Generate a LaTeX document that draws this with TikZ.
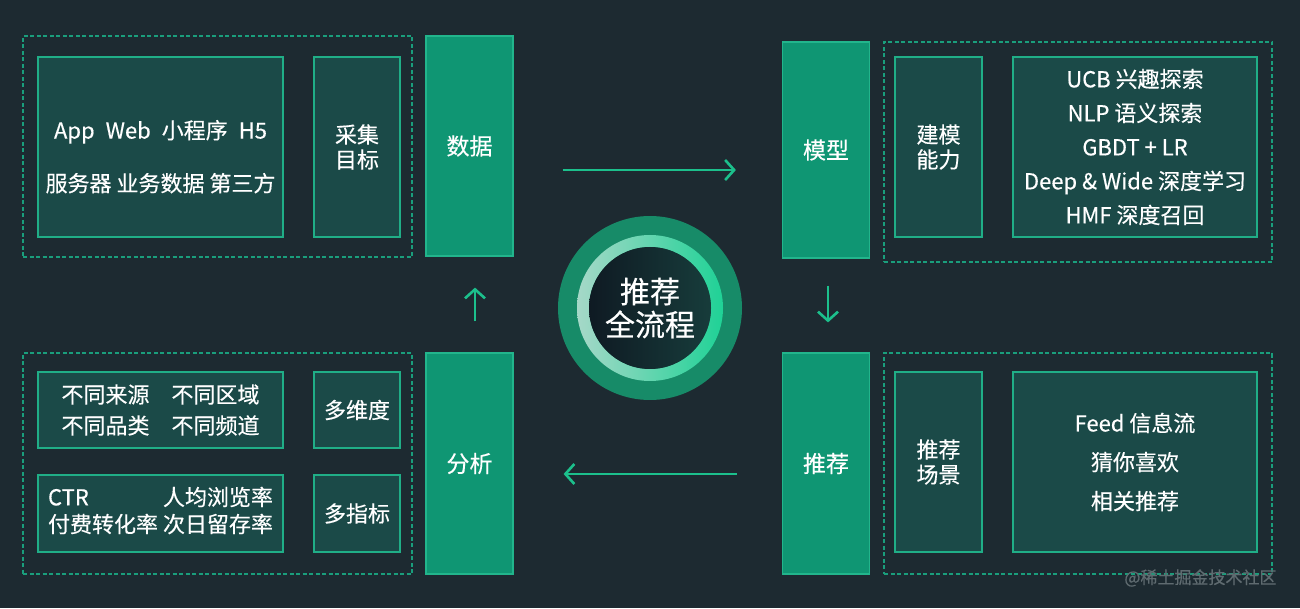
\documentclass[tikz,border=0pt]{standalone}
\usepackage{fontspec}
\newfontfamily\cjk[FakeBold=0.35]{Noto Sans CJK SC}
\usetikzlibrary{arrows.meta}

\definecolor{bgdark}{HTML}{1D2A31}
\definecolor{solidgreen}{HTML}{0F9673}
\definecolor{solidedge}{HTML}{22B58C}
\definecolor{panelfill}{HTML}{1B4A48}
\definecolor{paneledge}{HTML}{20AE87}
\definecolor{dashgreen}{HTML}{1A9E7C}
\definecolor{arrowgreen}{HTML}{1CC08C}
\definecolor{ringlight}{HTML}{A6D8C8}
\definecolor{ringbright}{HTML}{1FD296}
\definecolor{halogreen}{HTML}{178B68}
\definecolor{halomid}{HTML}{1A5A4C}
\definecolor{coredark}{HTML}{0F1A23}
\definecolor{coreteal}{HTML}{173C3B}
\definecolor{markgray}{HTML}{5F6B70}

\pgfdeclareradialshading{halo}{\pgfpoint{0bp}{0bp}}{color(0bp)=(halogreen); color(39bp)=(halogreen); color(44bp)=(halomid); color(50bp)=(bgdark)}

\tikzset{
		stagebox/.style = {shape=rectangle, draw=solidedge, fill=solidgreen,
				line width=1.2pt, inner sep=0pt, align=center, text=white,
				minimum width=87pt, font=\cjk\fontsize{23}{28}\selectfont},
		panelbox/.style = {shape=rectangle, draw=paneledge, fill=panelfill,
				line width=1.2pt, inner sep=0pt, align=center, text=white,
				font=\cjk\fontsize{22}{25}\selectfont},
		groupbox/.style = {shape=rectangle, draw=dashgreen, line width=1.2pt,
				dash pattern=on 4pt off 2.5pt, inner sep=0pt},
		flowarrow/.style = {draw=arrowgreen, line width=2.6pt,
				-{Straight Barb[length=9pt, width=20pt]}}
	}

\begin{document}
\begin{tikzpicture}[x=1pt, y=1pt]
	\fill[bgdark] (0,0) rectangle (1300,608);
	\useasboundingbox (0,0) rectangle (1300,608);

	\node[groupbox, minimum width=389, minimum height=221] (collectgrp) at (217.5,461.5) {};
	\node[groupbox, minimum width=389, minimum height=221] (analysegrp) at (217.5,144.5) {};
	\node[groupbox, minimum width=388, minimum height=220] (modelgrp) at (1078,456) {};
	\node[groupbox, minimum width=388, minimum height=221] (recomgrp) at (1078,144.5) {};

	\node[stagebox, minimum height=220] (data) at (469.5,462) {数据};
	\node[stagebox, minimum height=221] (analyse) at (469.5,144.5) {分析};
	\node[stagebox, minimum height=216] (model) at (826,458) {模型};
	\node[stagebox, minimum height=221] (recom) at (826,144.5) {推荐};

	\node[panelbox, minimum width=245, minimum height=180, font=\cjk\fontsize{22}{53}\selectfont]
		(sources) at (160.5,461) {\rule{0pt}{38pt}App\enspace Web\enspace 小程序\enspace H5\\服务器 业务数据 第三方};
	\node[panelbox, minimum width=86, minimum height=180] (goal) at (357,461) {采集\\目标};

	\node[panelbox, minimum width=245, minimum height=76, font=\cjk\fontsize{22}{31}\selectfont]
		(dims) at (160.5,198) {不同来源\quad 不同区域\\不同品类\quad 不同频道};
	\node[panelbox, minimum width=86, minimum height=76] (dimlabel) at (357,198) {多维度};
	\node[panelbox, minimum width=245, minimum height=77, font=\cjk\fontsize{22}{27}\selectfont]
		(metrics) at (160.5,94.5) {\begin{tabular}{@{}l@{ }r@{}}CTR & 人均浏览率\\付费转化率 & 次日留存率\end{tabular}};
	\node[panelbox, minimum width=86, minimum height=77] (metriclabel) at (357,94.5) {多指标};

	\node[panelbox, minimum width=87, minimum height=180] (ability) at (938.5,461) {建模\\能力};
	\node[panelbox, minimum width=244, minimum height=180, font=\cjk\fontsize{22}{34}\selectfont]
		(algos) at (1135,461) {UCB 兴趣探索\\NLP 语义探索\\GBDT + LR\\Deep \& Wide 深度学习\\HMF 深度召回};

	\node[panelbox, minimum width=87, minimum height=180] (scene) at (938.5,146) {推荐\\场景};
	\node[panelbox, minimum width=244, minimum height=180, font=\cjk\fontsize{22}{39}\selectfont]
		(scenes) at (1135,146) {Feed 信息流\\猜你喜欢\\相关推荐};

	\coordinate (hub) at (650,300);
	\shade[shading=halo] (hub) circle (92);
	\shade[left color=ringlight, right color=ringbright, even odd rule] (hub) circle (73) circle (61);
	\node[circle, minimum size=122pt, inner sep=0pt, left color=coredark, right color=coreteal,
		text=white, align=center, font=\cjk\fontsize{30}{33}\selectfont] (core) at (hub) {推荐\\全流程};

	\draw[flowarrow] ([shift={(49,-24)}]data.east) -- ([shift={(-46,-20)}]model.west);
	\draw[flowarrow] ([shift={(2,-27)}]model.south) -- ([shift={(2,30)}]recom.north);
	\draw[flowarrow] ([shift={(-45,-10.5)}]recom.west) -- ([shift={(50,-10.5)}]analyse.east);
	\draw[flowarrow] ([shift={(5.5,31)}]analyse.north) -- ([shift={(5.5,-31)}]data.south);

	\node[text=markgray, anchor=east, font=\cjk\fontsize{17}{20}\selectfont] (mark) at (1280,30) {@稀土掘金技术社区};
\end{tikzpicture}
\end{document}
